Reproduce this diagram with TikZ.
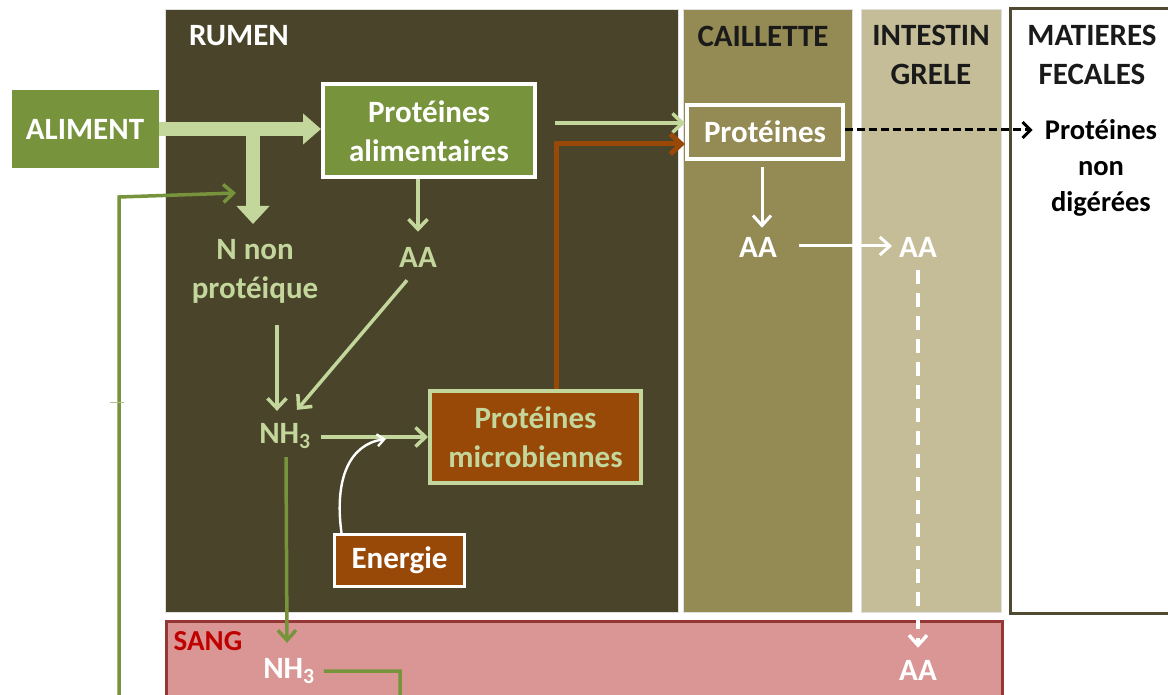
\documentclass[tikz,border=0pt]{standalone}
\usepackage{fontspec}
\setmainfont{Carlito}
\usetikzlibrary{arrows.meta}
\definecolor{rumenc}{HTML}{4A442A}
\definecolor{caillc}{HTML}{948A54}
\definecolor{intestc}{HTML}{C4BD97}
\definecolor{fecb}{HTML}{4F4A30}
\definecolor{sangf}{HTML}{D99694}
\definecolor{sangb}{HTML}{953735}
\definecolor{greenc}{HTML}{77933C}
\definecolor{lightg}{HTML}{C3D69B}
\definecolor{brownc}{HTML}{984807}
\definecolor{sangtxt}{HTML}{C00000}
\definecolor{darktxt}{HTML}{1A1A1A}
\tikzset{
  txt/.style={font=\bfseries\fontsize{31}{39}\selectfont, align=center, inner sep=0pt},
  box/.style={txt, rectangle},
  hdr/.style={txt, text=darktxt},
  la/.style={draw=lightg, line width=3.5, -{Straight Barb[length=10pt,width=19pt]}},
  wa/.style={draw=white, line width=3, -{Straight Barb[length=10pt,width=18pt]}},
  ga/.style={draw=greenc, line width=3.5, -{Straight Barb[length=10pt,width=18pt]}},
  zone/.style={draw=gray!25, line width=1}
}
\begin{document}
\begin{tikzpicture}[x=1pt,y=-1pt]
\useasboundingbox (0,0) rectangle (1168,695);
\fill[white] (0,0) rectangle (1168,695);
% zones
\filldraw[zone, fill=rumenc] (165,10) rectangle (678,612);
\filldraw[zone, fill=caillc] (683,10) rectangle (852,612);
\filldraw[zone, fill=intestc] (861,10) rectangle (1001,612);
\filldraw[draw=fecb, line width=3, fill=white] (1010,9) rectangle (1180,613);
\filldraw[draw=sangb, line width=3, fill=sangf] (166,621) rectangle (1002,710);
% headers
\node[txt, text=white] (hrumen) at (239,36) {RUMEN};
\node[hdr] (hcail) at (763,36) {CAILLETTE};
\node[hdr] (hint) at (931,55) {INTESTIN\\GRELE};
\node[hdr] (hfec) at (1092,55) {MATIERES\\FECALES};
\node[txt, text=sangtxt, font=\bfseries\fontsize{29}{32}\selectfont] (hsang) at (208,641) {SANG};
% boxes
\node[box, fill=greenc, text=white, minimum width=147, minimum height=78] (alim) at (85,129) {ALIMENT};
\node[box, fill=greenc, draw=white, line width=4, text=white, minimum width=212, minimum height=93] (pa) at (429,131) {Protéines\\alimentaires};
\node[box, fill=brownc, draw=lightg, line width=4, text=lightg, minimum width=211, minimum height=92] (pm) at (535.5,437) {Protéines\\microbiennes};
\node[box, fill=brownc, draw=white, line width=3, text=white, minimum width=130, minimum height=52] (en) at (399.5,560.5) {Energie};
\node[box, fill=caillc, draw=white, line width=4, text=white, minimum width=156, minimum height=54] (pc) at (765,132) {Protéines};
% text nodes
\node[txt, text=lightg] (aa1) at (418,257) {AA};
\node[txt, text=lightg] (nnp) at (255,271) {N non\\protéique};
\node[txt, text=lightg] (nh1) at (285,436) {NH\textsubscript{3}};
\node[txt, text=white] (nh2) at (289,671) {NH\textsubscript{3}};
\node[txt, text=white] (aa2) at (758,247) {AA};
\node[txt, text=white] (aa3) at (918,247) {AA};
\node[txt, text=white] (aa4) at (918,670) {AA};
\node[txt, text=black, font=\bfseries\fontsize{28.5}{36}\selectfont] (pnd) at (1101,168) {Protéines\\non\\digérées};
\coordinate (tj) at (253,129);
\coordinate (ej) at (386,439);
\coordinate (rl) at (236,193);
% thick arrows
\draw[draw=lightg, line width=14, -{Triangle[length=18pt,width=30pt]}] (alim.east) -- (alim.east -| pa.west);
\draw[draw=lightg, line width=14, -{Triangle[length=18pt,width=32pt]}] ([yshift=7pt]tj) -- (253,224);
% thin arrows
\draw[la] (aa1.north |- pa.south) -- ([yshift=15pt]aa1.north);
\draw[la] ([xshift=22pt,yshift=-22pt]nnp.south) -- ([xshift=-8pt,yshift=12pt]nh1.north);
\draw[la] ([xshift=-11pt,yshift=-13pt]aa1.south) -- ([xshift=12pt,yshift=13pt]nh1.north);
\draw[la] ([xshift=10pt]nh1.east |- pm.west) -- (pm.west);
\draw[draw=white, line width=2.4, -{Straight Barb[length=7pt,width=12pt]}] ([xshift=-58pt]en.north) .. controls (334,478) and (350,444) .. (ej);
\draw[la] ([xshift=18pt,yshift=8pt]pa.east) -- ([yshift=9pt]pc.west);
\draw[draw=brownc, line width=5, -{Straight Barb[length=11pt,width=20pt]}] ([xshift=21pt]pm.north) |- ([yshift=-12pt]pc.west);
\draw[draw=black, line width=3, dash pattern=on 8pt off 4pt, -{Straight Barb[length=8pt,width=16pt]}] ([yshift=2pt]pc.east) -- ([xshift=-12pt,yshift=2pt]pnd.west |- pc.east);
\draw[wa] ([xshift=-3pt,yshift=-6pt]pc.south) -- ([xshift=4pt,yshift=9pt]aa2.north);
\draw[wa] ([xshift=22pt,yshift=1pt]aa2.east) -- ([xshift=-7pt,yshift=1pt]aa3.west);
\draw[wa, line width=3.4, dash pattern=on 14pt off 9pt] ([yshift=-13pt]aa3.south) -- ([yshift=12pt]aa4.north);
\draw[ga] ([xshift=1pt,yshift=-8pt]nh1.south) -- ([xshift=-2pt,yshift=15pt]nh2.north);
\draw[ga] ([xshift=9pt]nh2.east) -| (400,730) -| (119,197) -- (rl);
\draw[draw=greenc!60, line width=0.8] (110,402) -- (124,402);
\end{tikzpicture}
\end{document}
